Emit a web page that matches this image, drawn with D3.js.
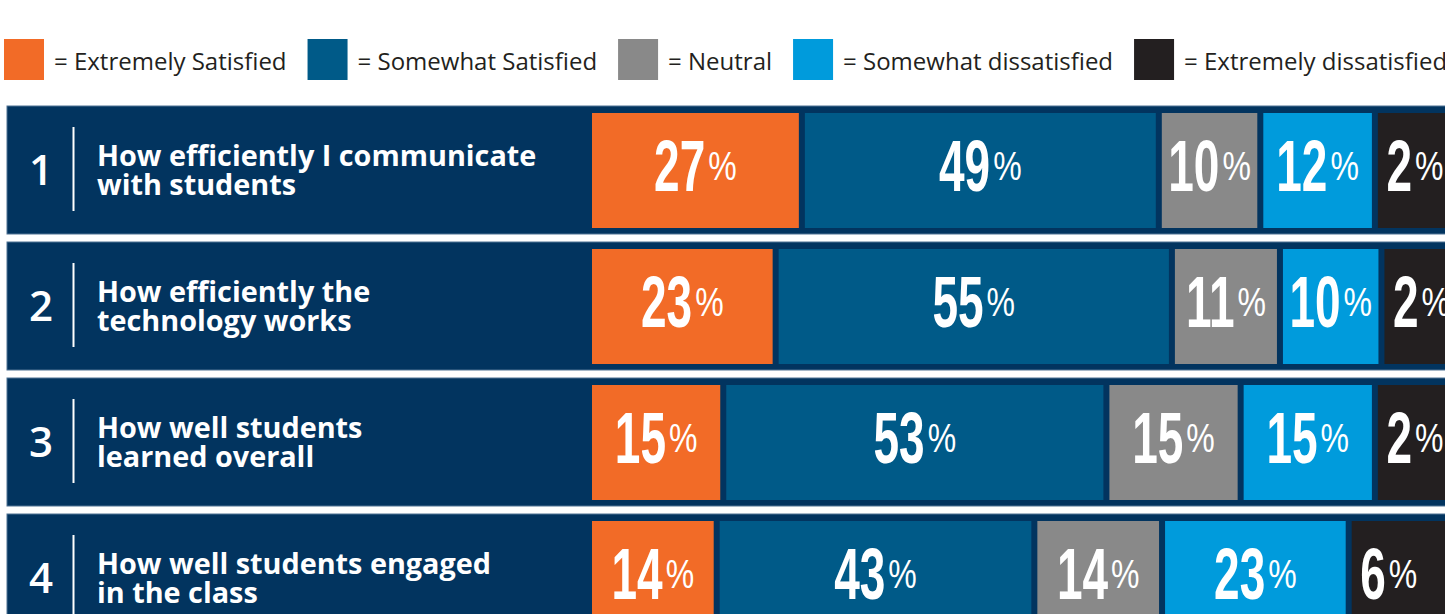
<!DOCTYPE html>
<html>
<head>
<meta charset="utf-8">
<script src="https://cdn.jsdelivr.net/npm/d3@7"></script>
<style>
  html, body { margin: 0; padding: 0; background: #ffffff; overflow: hidden; }
  svg { display: block; }
</style>
</head>
<body>
<svg id="chart" width="1445" height="614"></svg>
<script>
// ---------- data ----------
const categories = [
  "How efficiently I communicate with students",
  "How efficiently the technology works",
  "How well students learned overall",
  "How well students engaged in the class"
];
const labelLines = [
  ["How efficiently I communicate", "with students"],
  ["How efficiently the", "technology works"],
  ["How well students", "learned overall"],
  ["How well students engaged", "in the class"]
];
const rowNumbers = ["1", "2", "3", "4"];
const seriesNames = [
  "Extremely Satisfied",
  "Somewhat Satisfied",
  "Neutral",
  "Somewhat dissatisfied",
  "Extremely dissatisfied"
];
const extremelySatisfied    = [27, 23, 15, 14];
const somewhatSatisfied     = [49, 55, 53, 43];
const neutral               = [10, 11, 15, 14];
const somewhatDissatisfied  = [12, 10, 15, 23];
const extremelyDissatisfied = [2, 2, 2, 6];
const seriesColors = ["#f26b27", "#005a88", "#898989", "#009bdc", "#231f20"];

// ---------- setup ----------
const svg = d3.select("#chart");
const W = 1445;
const seriesValues = [extremelySatisfied, somewhatSatisfied, neutral, somewhatDissatisfied, extremelyDissatisfied];
const color = d3.scaleOrdinal().domain(seriesNames).range(seriesColors);

// ---------- legend ----------
const legend = svg.append("g");
let lx = 4;
seriesNames.forEach((name) => {
  legend.append("rect")
    .attr("x", lx).attr("y", 39).attr("width", 40).attr("height", 41)
    .attr("fill", color(name));
  const t = legend.append("text")
    .attr("x", lx + 50).attr("y", 70)
    .attr("font-family", "'Open Sans', sans-serif")
    .attr("font-size", 24)
    .attr("fill", "#231f20")
    .text("= " + name);
  lx = lx + 50 + t.node().getComputedTextLength() + 21;
});

// ---------- rows ----------
const y = d3.scaleBand().domain(categories).range([106, 642]).paddingInner(8 / 136).paddingOuter(0);
const x = d3.scaleLinear().domain([0, 100]).range([30, 685]);
const minSeg = 75;
const barStart = 592, gap = 6;
const numFont = "'Liberation Sans', Arial, sans-serif";

const rows = svg.append("g").selectAll("g.row")
  .data(categories)
  .join("g").attr("class", "row")
  .attr("transform", d => `translate(0,${y(d)})`);

rows.append("rect")
  .attr("x", 7).attr("y", 0)
  .attr("width", W + 20).attr("height", y.bandwidth())
  .attr("fill", "#02345f")
  .attr("stroke", "#4f7294").attr("stroke-width", 1);

const bh = y.bandwidth();

rows.each(function(cat, i) {
  const g = d3.select(this);
  const cy = bh / 2;
  // number
  g.append("text")
    .attr("x", 41).attr("y", cy + 15)
    .attr("text-anchor", "middle")
    .attr("font-family", "'Open Sans', sans-serif")
    .attr("font-weight", 600)
    .attr("font-size", 42)
    .attr("fill", "#ffffff")
    .text(rowNumbers[i]);
  // separator
  g.append("line")
    .attr("x1", 73.5).attr("x2", 73.5)
    .attr("y1", 21).attr("y2", 105)
    .attr("stroke", "#ffffff").attr("stroke-width", 2);
  // label
  const lab = g.append("text")
    .attr("font-family", "'Open Sans', sans-serif")
    .attr("font-weight", 700)
    .attr("font-size", 28.8)
    .attr("fill", "#ffffff");
  labelLines[i].forEach((ln, k) => {
    lab.append("tspan").attr("x", 97).attr("y", cy - 4 + k * 28.5).text(ln);
  });

  // segments
  let sx = barStart;
  const nS = seriesValues.length;
  seriesValues.forEach((vals, s) => {
    const v = vals[i];
    let w = Math.max(x(v), minSeg);
    if (s === nS - 1) w = Math.max(w, W - sx + 20); // last segment runs off the cropped edge
    g.append("rect")
      .attr("x", sx).attr("y", 7)
      .attr("width", w).attr("height", bh - 13)
      .attr("fill", color(seriesNames[s]));
    const visW = (s === nS - 1) ? Math.max(x(v), 74) : w;
    // value label
    const lg = g.append("g");
    const sxNum = 0.63, sxPct = 0.8;
    const num = lg.append("text")
      .attr("font-family", numFont)
      .attr("font-weight", 700)
      .attr("font-size", 73)
      .attr("fill", "#ffffff")
      .text(String(v));
    const numW = num.node().getComputedTextLength() * sxNum;
    num.attr("transform", `scale(${sxNum},1)`);
    const pct = lg.append("text")
      .attr("font-family", numFont)
      .attr("font-weight", 400)
      .attr("font-size", 40)
      .attr("fill", "#ffffff")
      .text("%");
    const pctW = pct.node().getComputedTextLength() * sxPct;
    pct.attr("transform", `translate(${numW + 3},-11) scale(${sxPct},1)`);
    const totalW = numW + 3 + pctW;
    lg.attr("transform", `translate(${sx + visW / 2 - totalW / 2},${cy + 21})`);
    sx += w + gap;
  });
});
</script>
</body>
</html>
